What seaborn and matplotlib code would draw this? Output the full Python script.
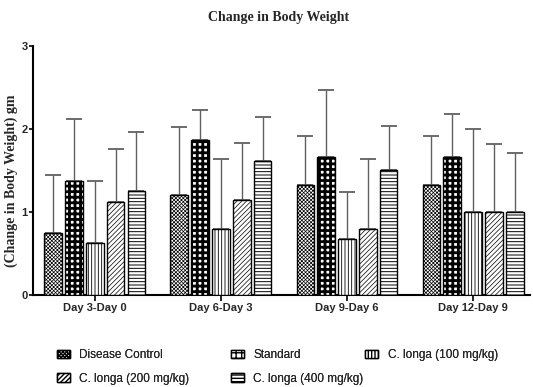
import numpy as np
import pandas as pd
import matplotlib
matplotlib.use("Agg")
import matplotlib.pyplot as plt
import seaborn as sns

# Intervals and treatment groups
periods = ["Day 3-Day 0", "Day 6-Day 3", "Day 9-Day 6", "Day 12-Day 9"]
groups = ["Disease Control", "Standard", "C. longa (100 mg/kg)",
          "C. longa (200 mg/kg)", "C. longa (400 mg/kg)"]

# Mean change in body weight (gm) per group, one value per interval
disease_control = [0.75, 1.20, 1.33, 1.33]
standard = [1.37, 1.87, 1.66, 1.66]
clonga_100 = [0.63, 0.80, 0.67, 1.00]
clonga_200 = [1.12, 1.14, 0.80, 1.00]
clonga_400 = [1.25, 1.62, 1.50, 1.00]

# Upper error (SD) for each bar
err_disease_control = [0.70, 0.83, 0.58, 0.58]
err_standard = [0.75, 0.36, 0.81, 0.52]
err_clonga_100 = [0.74, 0.84, 0.57, 1.00]
err_clonga_200 = [0.64, 0.69, 0.84, 0.82]
err_clonga_400 = [0.71, 0.52, 0.54, 0.71]

yticks = [0, 1, 2, 3]

means = [disease_control, standard, clonga_100, clonga_200, clonga_400]
errs = [err_disease_control, err_standard, err_clonga_100, err_clonga_200, err_clonga_400]

df = pd.DataFrame({
    "period": [p for g in groups for p in periods],
    "group": [g for g in groups for p in periods],
    "value": [v for m in means for v in m],
})

sns.set_style("white")
plt.rcParams["font.family"] = ["Liberation Sans", "DejaVu Sans"]

fig = plt.figure(figsize=(5.33, 3.87), dpi=100)
ax = fig.add_axes([0.062, 0.238, 0.932, 0.643])

sns.barplot(data=df, x="period", y="value", hue="group", order=periods,
            hue_order=groups, width=0.825, gap=0.15, errorbar=None,
            palette=["white"] * 5, edgecolor="black",
            linewidth=1.0, legend=False, ax=ax, zorder=3)

hatches = ["x" * 9, "+++", "|" * 5, "/" * 7, "-" * 5]
hatch_lw = [0.5, 2.0, 0.6, 0.5, 0.7]

bar_containers = list(ax.containers)
for gi, cont in enumerate(bar_containers):
    xs = []
    for bar in cont:
        bar.set_hatch(hatches[gi])
        try:
            bar.set_hatch_linewidth(hatch_lw[gi])
        except AttributeError:
            pass
        xs.append(bar.get_x() + bar.get_width() / 2)
    xs = np.array(xs)
    top = np.array(means[gi])
    up = np.array(errs[gi])
    ax.errorbar(xs, top, yerr=[np.zeros_like(up), up], fmt="none",
                ecolor="#606060", elinewidth=1.0, capsize=5.5, capthick=1.3,
                zorder=2)

ax.set_ylim(0, 3)
ax.set_xlim(-0.49, 3.45)
ax.set_yticks(yticks)
ax.set_yticklabels([str(t) for t in yticks], fontweight="bold", fontsize=8)
ax.set_xticks(range(len(periods)))
ax.set_xticklabels(periods, fontweight="bold", fontsize=8)
ax.set_xlabel("")
ax.set_ylabel("(Change in Body Weight) gm", fontfamily="Liberation Serif",
              fontweight="bold", fontsize=10)
ax.yaxis.set_label_coords(-0.031, 0.46)
ax.tick_params(axis="y", direction="out", length=3, width=1.2,
               color="black", pad=1, left=True)
ax.tick_params(axis="x", direction="out", length=4, width=1.2,
               color="black", pad=2, bottom=True)
sns.despine(ax=ax)
for s in ("left", "bottom"):
    ax.spines[s].set_linewidth(1.5)
    ax.spines[s].set_color("black")

fig.text(0.522, 0.955, "Change in Body Weight", ha="center", va="center",
         fontfamily="Liberation Serif", fontweight="bold", fontsize=10)

# Legend laid out in three columns under the plot
bars_by_group = [cont[0] for cont in bar_containers]
columns = [([0, 3], 0.107), ([1, 4], 0.433), ([2], 0.685)]
for idx, xpos in columns:
    leg = fig.legend([bars_by_group[i] for i in idx], [groups[i] for i in idx],
                     loc="upper left", bbox_to_anchor=(xpos, 0.097),
                     frameon=False, fontsize=8.5, handlelength=1.1,
                     handleheight=0.7, handletextpad=0.8, labelspacing=0.95,
                     borderaxespad=0, borderpad=0)
    fig.add_artist(leg)

fig.savefig("out.png", dpi=100)
